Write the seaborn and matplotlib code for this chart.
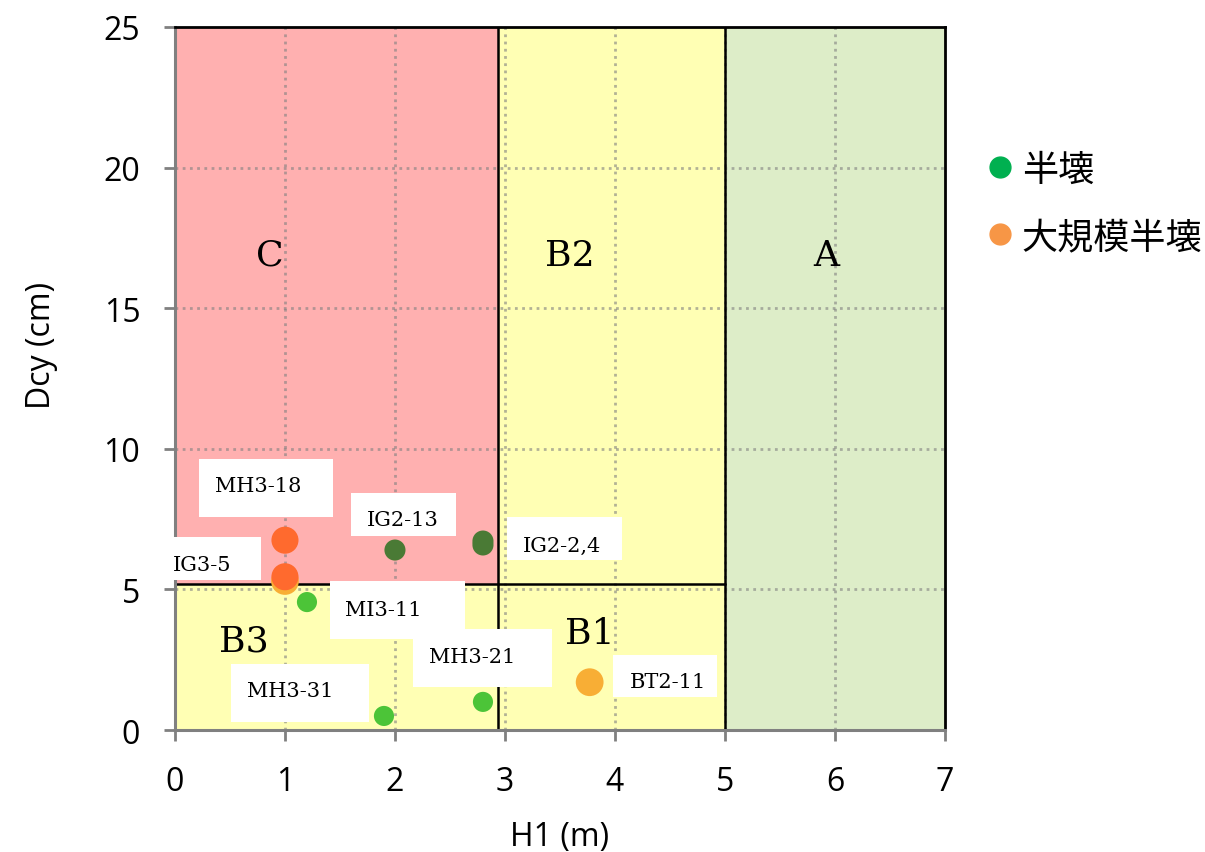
import numpy as np
import pandas as pd
import seaborn as sns
import matplotlib.pyplot as plt
from matplotlib.lines import Line2D
from matplotlib.patches import Rectangle

# point data
h1 = [1.0, 1.0, 1.0, 2.0, 2.8, 2.8, 1.2, 1.9, 2.8, 3.77]
dcy = [5.3, 6.75, 5.45, 6.4, 6.58, 6.72, 4.55, 0.5, 1.0, 1.7]
kind = ['large_orange', 'large_red', 'large_red', 'dark', 'dark', 'dark', 'light', 'light', 'light', 'large_orange']

# labels for the points
label_text = ['MH3-18', 'IG3-5', 'IG2-13', 'IG2-2,4', 'MI3-11', 'MH3-31', 'MH3-21', 'BT2-11']
label_x = [0.364, -0.018, 1.745, 3.164, 1.545, 0.655, 2.31, 4.136]
label_y = [8.68, 5.9, 7.47, 6.58, 4.30, 1.39, 2.63, 1.71]
box_x0 = [0.218, -0.136, 1.60, 3.018, 1.41, 0.509, 2.164, 3.98]
box_x1 = [1.436, 0.782, 2.555, 4.064, 2.64, 1.764, 3.427, 4.93]
box_y0 = [7.57, 5.33, 6.90, 6.05, 3.24, 0.28, 1.53, 1.17]
box_y1 = [9.64, 6.86, 8.43, 7.57, 5.30, 2.35, 3.59, 2.67]

# zones
zone_names = ['C', 'B2', 'B3', 'B1', 'A']
zone_x0 = [0, 2.94, 0, 2.94, 5]
zone_x1 = [2.94, 5, 2.94, 5, 7]
zone_y0 = [5.2, 5.2, 0, 0, 0]
zone_y1 = [25, 25, 5.2, 5.2, 25]
zone_col = ['#FFB0B0', '#FFFFB4', '#FFFFB4', '#FFFFB4', '#DDEDC8']
zone_lx = [0.864, 3.59, 0.627, 3.77, 5.92]
zone_ly = [16.9, 16.9, 3.2, 3.45, 16.9]

palette = {'large_orange': '#F8AE35', 'large_red': '#FF6A2E', 'dark': '#4A7A35', 'light': '#4CC438'}
sizes = {'large_red': 380, 'dark': 230, 'light': 210, 'large_orange': 400}

sns.set_theme(style='white')
plt.rcParams['font.family'] = ['Open Sans', 'DejaVu Sans']
plt.rcParams['text.color'] = 'black'
plt.rcParams['axes.labelcolor'] = 'black'
plt.rcParams['xtick.color'] = 'black'
plt.rcParams['ytick.color'] = 'black'

fig = plt.figure(figsize=(12.05, 8.53), dpi=100)
ax = fig.add_axes([0.1452, 0.143, 0.639, 0.8242])

for i in range(len(zone_names)):
    ax.fill_between([zone_x0[i], zone_x1[i]], zone_y0[i], zone_y1[i], color=zone_col[i], lw=0, zorder=0)
    ax.text(zone_lx[i], zone_ly[i], zone_names[i], family='DejaVu Serif', fontsize=26,
            ha='center', va='center', zorder=3)

for gx in range(1, 7):
    ax.axvline(gx, color='#808080', alpha=0.6, ls=(0, (1.0, 1.6)), lw=2, zorder=1)
for gy in [5, 10, 15, 20]:
    ax.axhline(gy, color='#808080', alpha=0.6, ls=(0, (1.0, 1.6)), lw=2, zorder=1)

ax.plot([2.94, 2.94], [0, 25], color='black', lw=1.8, zorder=2)
ax.plot([5, 5], [0, 25], color='black', lw=1.8, zorder=2)
ax.plot([0, 5], [5.2, 5.2], color='black', lw=1.8, zorder=2)

df = pd.DataFrame({'H1': h1, 'Dcy': dcy, 'kind': kind})
for k in palette:
    sub = df[df['kind'] == k]
    sns.scatterplot(data=sub, x='H1', y='Dcy', color=palette[k], s=sizes[k],
                    edgecolor='none', ax=ax, zorder=5, legend=False)

for i, t in enumerate(label_text):
    ax.add_patch(Rectangle((box_x0[i], box_y0[i]), box_x1[i] - box_x0[i], box_y1[i] - box_y0[i],
                           fc='white', ec='none', zorder=4, clip_on=False))
    ax.text(label_x[i], label_y[i], t, family='DejaVu Serif', fontsize=15,
            ha='left', va='center', zorder=4.5)

ax.set_xlim(0, 7)
ax.set_ylim(0, 25)
ax.set_xticks(range(0, 8))
ax.set_yticks(range(0, 26, 5))
ax.tick_params(axis='both', labelsize=23, length=8, width=2, color='#808080', direction='out',
               bottom=True, left=True, pad=17)
ax.set_xlabel('H1 (m)', fontsize=23, labelpad=16)
ax.set_ylabel('Dcy (cm)', fontsize=23)
ax.yaxis.set_label_coords(-0.173, 0.548)
ax.yaxis.label.set_verticalalignment('center')
for side in ['top', 'right']:
    ax.spines[side].set_color('black')
    ax.spines[side].set_linewidth(2)
for side in ['left', 'bottom']:
    ax.spines[side].set_color('#808080')
    ax.spines[side].set_linewidth(2.2)

handles = [Line2D([], [], marker='o', ls='', color='#00B050', markersize=15),
           Line2D([], [], marker='o', ls='', color='#F79646', markersize=15)]
fig.legend(handles, ['半壊', '大規模半壊'], loc='upper left', bbox_to_anchor=(982 / 1205, 1 - 153 / 853),
           frameon=False, borderpad=0, borderaxespad=0, handlelength=1.0, handletextpad=0.1,
           labelspacing=0.86, prop={'family': ['Noto Sans CJK JP', 'DejaVu Sans'], 'size': 26})

fig.savefig('out.png', dpi=100)
